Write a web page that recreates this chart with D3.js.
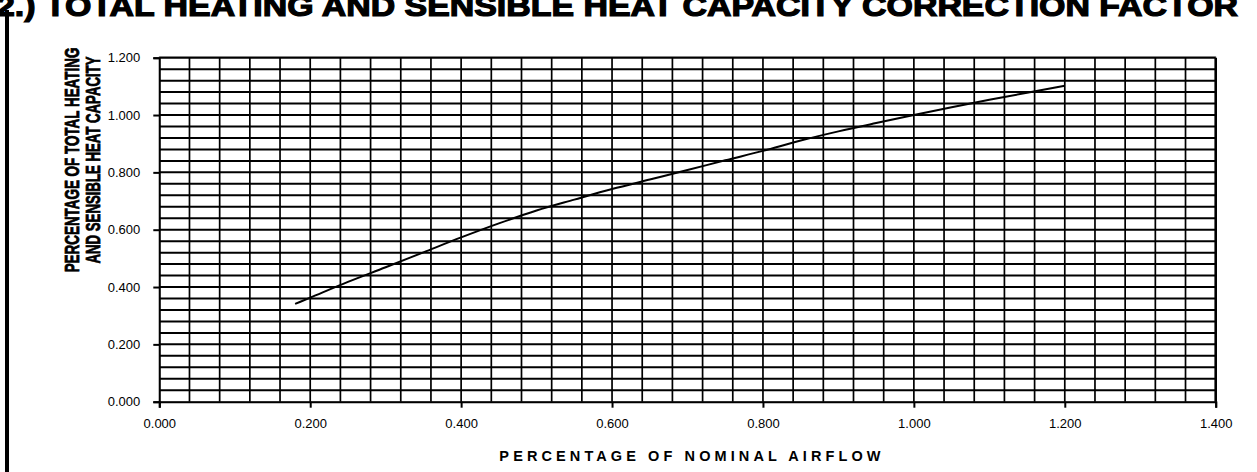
<!DOCTYPE html>
<html><head><meta charset="utf-8">
<script src="https://cdn.jsdelivr.net/npm/d3@7"></script>
<style>
html,body{margin:0;padding:0;background:#fff;overflow:hidden}
svg{display:block}
</style></head>
<body>
<svg id="chart" width="1257" height="472"></svg>
<script>
const titleText = "2.) TOTAL HEATING AND SENSIBLE HEAT CAPACITY CORRECTION FACTOR";
const xTitle = "PERCENTAGE OF NOMINAL AIRFLOW";
const yTitleLines = ["PERCENTAGE OF TOTAL HEATING", "AND SENSIBLE HEAT CAPACITY"];
const xTicks = [0, 0.2, 0.4, 0.6, 0.8, 1.0, 1.2, 1.4];
const yTicks = [0, 0.2, 0.4, 0.6, 0.8, 1.0, 1.2];
const gridStep = 0.04;
const airflow = [0.18, 0.20, 0.25, 0.30, 0.35, 0.40, 0.45, 0.50, 0.55, 0.60, 0.65, 0.70, 0.75, 0.80, 0.85, 0.90, 0.95, 1.00, 1.05, 1.10, 1.15, 1.20];
const capacity = [0.341, 0.363, 0.418, 0.469, 0.521, 0.573, 0.622, 0.667, 0.705, 0.742, 0.775, 0.808, 0.842, 0.875, 0.911, 0.943, 0.972, 1.000, 1.027, 1.053, 1.078, 1.102];

const svg = d3.select("#chart");
const m = {left: 159.3, right: 1215.7, top: 57.7, bottom: 401.7};
const x = d3.scaleLinear().domain([0, 1.4]).range([m.left, m.right]);
const y = d3.scaleLinear().domain([0, 1.2]).range([m.bottom, m.top]);

// title (cropped at top, as in the source)
svg.append("text").attr("x", -4).attr("y", 16)
  .attr("font-family", "Liberation Sans, Arial, sans-serif").attr("font-weight", "bold")
  .attr("font-size", 29).attr("textLength", 1242).attr("lengthAdjust", "spacingAndGlyphs")
  .attr("fill", "#000").attr("stroke", "#000").attr("stroke-width", 1.2).text(titleText);

// left frame bar
svg.append("line").attr("x1", 7).attr("x2", 7).attr("y1", 10).attr("y2", 472)
  .attr("stroke", "#000").attr("stroke-width", 4);

// plot border (gray)
svg.append("rect").attr("x", m.left).attr("y", m.top - 1).attr("width", m.right - m.left).attr("height", m.bottom - m.top + 1)
  .attr("fill", "none").attr("stroke", "#999").attr("stroke-width", 1);

// grid
const nx = Math.round(1.4 / gridStep), ny = Math.round(1.2 / gridStep);
const gx = d3.range(1, nx + 1).map(i => i * gridStep);
const gy = d3.range(1, ny + 1).map(i => i * gridStep);
svg.append("g").selectAll("line").data(gy).join("line")
  .attr("x1", m.left).attr("x2", m.right).attr("y1", d => y(d)).attr("y2", d => y(d))
  .attr("stroke", "#000").attr("stroke-width", 2);
svg.append("g").selectAll("line").data(gx).join("line")
  .attr("y1", m.top).attr("y2", m.bottom).attr("x1", d => x(d)).attr("x2", d => x(d))
  .attr("stroke", "#000").attr("stroke-width", (d, i) => i === gx.length - 1 ? 2.6 : 1.7);

// axes
const fmt = d3.format(".3f");
const xAxis = svg.append("g").attr("transform", `translate(0,${m.bottom})`)
  .call(d3.axisBottom(x).tickValues(xTicks).tickFormat(fmt).tickSize(6).tickPadding(11));
const yAxis = svg.append("g").attr("transform", `translate(${m.left},0)`)
  .call(d3.axisLeft(y).tickValues(yTicks).tickFormat(fmt).tickSize(6).tickPadding(13));
[xAxis, yAxis].forEach(a => {
  a.select(".domain").attr("stroke", "#000").attr("stroke-width", 2);
  a.selectAll(".tick line").attr("stroke", "#000").attr("stroke-width", 2);
  a.selectAll(".tick text").attr("font-family", "Liberation Sans, Arial, sans-serif")
    .attr("font-size", 13).attr("fill", "#000");
});

// curve
svg.append("path").datum(d3.zip(airflow, capacity))
  .attr("fill", "none").attr("stroke", "#000").attr("stroke-width", 2)
  .attr("d", d3.line().x(d => x(d[0])).y(d => y(d[1])).curve(d3.curveMonotoneX));

// x title
svg.append("text").attr("x", 692).attr("y", 461).attr("text-anchor", "middle")
  .attr("font-family", "Liberation Sans, Arial, sans-serif").attr("font-weight", "bold")
  .attr("font-size", 14.5).attr("letter-spacing", 4.1).attr("fill", "#000").text(xTitle);

// y title: two rotated lines, horizontally condensed to the source's length
const yTargets = [225, 207];
const yBase = [79, 100];
yTitleLines.forEach((t, i) => {
  const g = svg.append("g");
  const tx = g.append("text")
    .attr("font-family", "Liberation Sans, Arial, sans-serif").attr("font-weight", "bold")
    .attr("font-size", 20).attr("text-anchor", "middle").attr("fill", "#000")
    .attr("stroke", "#000").attr("stroke-width", 0.8).text(t);
  const len = tx.node().getComputedTextLength() || yTargets[i];
  const s = yTargets[i] / len;
  g.attr("transform", `translate(${yBase[i]},160) rotate(-90) scale(${s},1)`);
});
</script>
</body></html>
